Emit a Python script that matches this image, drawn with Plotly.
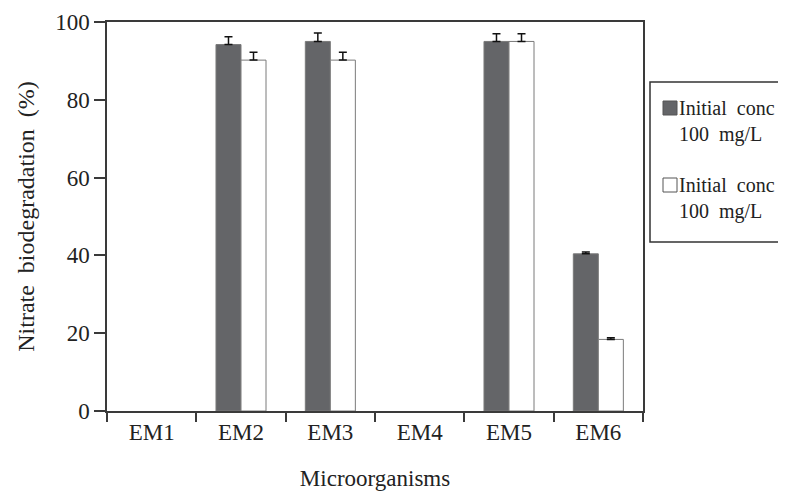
import plotly.graph_objects as go

categories = ["EM1", "EM2", "EM3", "EM4", "EM5", "EM6"]
series_a = [0, 94.2, 95.0, 0, 95.0, 40.4]
err_a = [0, 2.0, 2.2, 0, 2.0, 0.5]
series_b = [0, 90.2, 90.2, 0, 95.0, 18.4]
err_b = [0, 2.0, 2.0, 0, 2.0, 0.4]
legend_lines = ["Initial\u00a0 conc", "100\u00a0 mg/L"]
y_ticks = [0, 20, 40, 60, 80, 100]

FONT = "Liberation Serif"
AX = "#3a3a3a"
OFF = 8  # page body offset

# plot box in page pixels (reference)
PL, PR, PT, PB = 107, 643, 22, 411
W, H = 786, 496

def px(x):
    return (x - PL) / (PR - PL)

def py(y):
    return (PB - y) / (PB - PT)

# zero-valued bars are not drawn at all in the reference (no outline, no error cap)
y_a = [v if v else None for v in series_a]
y_b = [v if v else None for v in series_b]

fig = go.Figure()
fig.add_trace(go.Bar(
    x=categories, y=y_a, name="A",
    marker=dict(color="#646568", line=dict(color="#7a7a7a", width=1)),
    error_y=dict(type="data", array=err_a, arrayminus=[0]*6, symmetric=False,
                 color="#111111", thickness=1.5, width=4),
    showlegend=False,
))
fig.add_trace(go.Bar(
    x=categories, y=y_b, name="B",
    marker=dict(color="#ffffff", line=dict(color="#7a7a7a", width=1)),
    error_y=dict(type="data", array=err_b, arrayminus=[0]*6, symmetric=False,
                 color="#111111", thickness=1.5, width=4),
    showlegend=False,
))

fig.update_layout(
    width=W, height=H,
    margin=dict(l=PL - OFF, r=W - (PR - OFF), t=PT - OFF, b=H - (PB - OFF), autoexpand=False),
    paper_bgcolor="white", plot_bgcolor="white",
    barmode="group", bargap=0.44, bargroupgap=0.0,
    font=dict(family=FONT, size=23, color="#222222"),
    xaxis=dict(
        type="category", tickson="boundaries", automargin=False,
        categoryorder="array", categoryarray=categories,
        ticks="outside", ticklen=9, tickwidth=1.5, tickcolor=AX,
        showline=True, linecolor=AX, linewidth=1.5, mirror=True,
        showgrid=False, tickfont=dict(size=23),
        title=dict(text="Microorganisms", font=dict(size=23), standoff=26),
    ),
    yaxis=dict(
        range=[0, 100], tickvals=y_ticks, automargin=False,
        ticks="outside", ticklen=11, tickwidth=1.5, tickcolor=AX,
        showline=True, linecolor=AX, linewidth=1.5, mirror=True,
        showgrid=False, zeroline=False, tickfont=dict(size=23),
        title=dict(text="Nitrate\u00a0\u00a0biodegradation\u00a0\u00a0(%)",
                   font=dict(size=24), standoff=14),
    ),
)

# Legend box (manual, clipped at right edge like the reference)
fig.add_shape(type="rect", xref="paper", yref="paper",
              x0=px(650), x1=px(810),
              y0=py(242), y1=py(82),
              line=dict(color="#333333", width=1.5), fillcolor="white")
fills = ["#646568", "#ffffff"]
tops = [101, 178]
for f, t in zip(fills, tops):
    fig.add_shape(type="rect", xref="paper", yref="paper",
                  x0=px(663), x1=px(677),
                  y0=py(t + 14), y1=py(t),
                  line=dict(color="#555555", width=1), fillcolor=f)
    fig.add_annotation(xref="paper", yref="paper",
                       x=px(677), y=py(t - 6),
                       xanchor="left", yanchor="top", align="left",
                       text=legend_lines[0] + "<br>" + legend_lines[1],
                       showarrow=False, font=dict(family=FONT, size=20, color="#222222"))

fig.write_html("out.html")
